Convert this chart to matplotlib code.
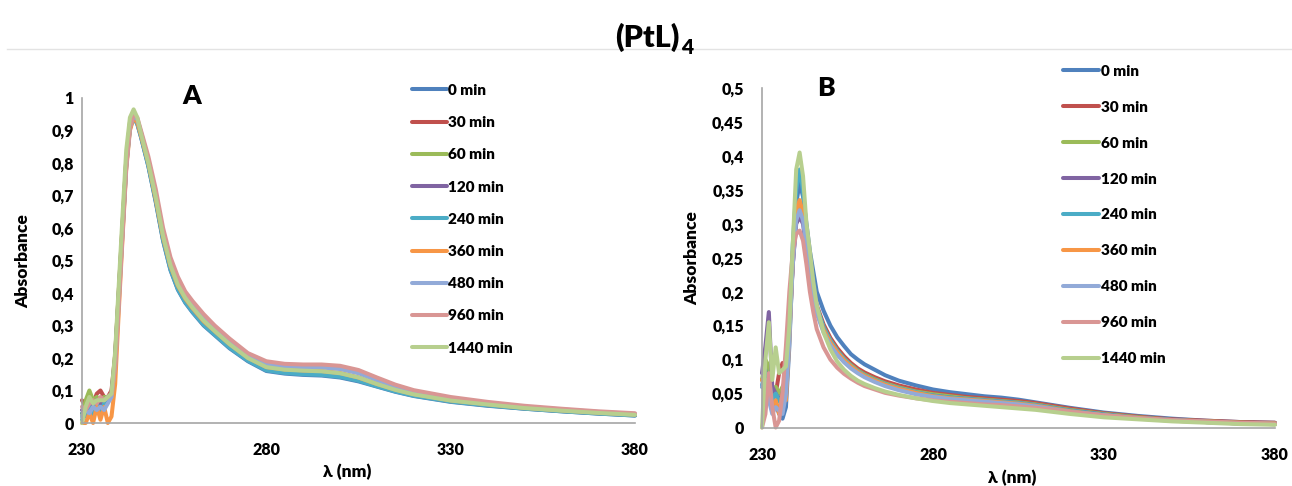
import matplotlib
matplotlib.use("Agg")
import matplotlib.pyplot as plt

plt.rcParams['font.family'] = ['Lato', 'DejaVu Sans']
BW = 'heavy'

WL = [230,231,232,233,234,235,236,237,238,239,240,241,242,243,244,245,246,
      248,250,252,254,256,258,260,263,266,270,275,280,285,290,295,300,305,310,
      315,320,330,340,350,360,370,380]

labels = ["0 min", "30 min", "60 min", "120 min", "240 min", "360 min",
          "480 min", "960 min", "1440 min"]
colors = ["#4F81BD", "#C0504D", "#9BBB59", "#8064A2", "#4BACC6", "#F79646",
          "#92AAD8", "#D99694", "#B7CF8E"]

# Panel A
A_0 = [0.03,0.02,0.05,0.03,0.06,0.04,0.06,0.07,0.08,0.20,0.40,0.60,0.80,0.91,0.94,0.92,0.88,
       0.79,0.68,0.56,0.47,0.41,0.37,0.34,0.30,0.27,0.23,0.19,0.16,0.152,0.148,0.146,0.14,0.128,0.112,
       0.096,0.083,0.065,0.053,0.044,0.036,0.029,0.023]
A_30 = [0.07,0.05,0.07,0.06,0.09,0.10,0.08,0.08,0.10,0.21,0.41,0.61,0.81,0.92,0.945,0.925,0.885,
        0.795,0.687,0.567,0.477,0.417,0.377,0.347,0.307,0.277,0.237,0.196,0.166,0.158,0.155,0.153,0.147,0.134,0.116,
        0.099,0.086,0.067,0.055,0.045,0.037,0.030,0.024]
A_60 = [0.02,0.07,0.10,0.07,0.08,0.07,0.08,0.08,0.09,0.21,0.41,0.61,0.81,0.925,0.95,0.93,0.89,
        0.80,0.69,0.57,0.48,0.42,0.38,0.35,0.31,0.28,0.24,0.198,0.168,0.16,0.157,0.155,0.149,0.136,0.117,
        0.1,0.087,0.068,0.056,0.046,0.038,0.031,0.025]
A_120 = [0.04,0.03,0.06,0.05,0.07,0.06,0.07,0.08,0.09,0.20,0.40,0.60,0.80,0.915,0.945,0.93,0.89,
         0.80,0.69,0.572,0.482,0.422,0.382,0.352,0.312,0.282,0.242,0.2,0.17,0.163,0.16,0.158,0.152,0.139,0.119,
         0.102,0.088,0.069,0.057,0.046,0.038,0.031,0.025]
A_240 = [0.01,0.03,0.05,0.02,0.06,0.03,0.06,0.07,0.08,0.19,0.39,0.59,0.79,0.905,0.94,0.92,0.88,
         0.79,0.682,0.562,0.472,0.412,0.372,0.342,0.302,0.272,0.232,0.192,0.162,0.154,0.15,0.148,0.142,0.13,0.113,
         0.097,0.084,0.066,0.054,0.044,0.036,0.029,0.023]
A_360 = [0.0,0.0,0.03,0.0,0.05,0.01,0.05,0.0,0.02,0.12,0.35,0.57,0.78,0.90,0.94,0.925,0.885,
         0.80,0.69,0.572,0.483,0.423,0.383,0.353,0.313,0.283,0.243,0.201,0.172,0.165,0.162,0.16,0.154,0.14,0.12,
         0.103,0.089,0.07,0.058,0.047,0.039,0.032,0.026]
A_480 = [0.02,0.04,0.03,0.05,0.04,0.05,0.04,0.06,0.08,0.18,0.38,0.59,0.79,0.91,0.945,0.935,0.895,
         0.81,0.705,0.585,0.495,0.435,0.395,0.365,0.325,0.292,0.252,0.208,0.182,0.174,0.172,0.171,0.166,0.153,0.132,
         0.111,0.096,0.075,0.062,0.05,0.042,0.034,0.028]
A_960 = [0.05,0.04,0.06,0.07,0.06,0.08,0.07,0.08,0.09,0.17,0.37,0.58,0.79,0.91,0.95,0.94,0.90,
         0.82,0.72,0.60,0.51,0.45,0.405,0.375,0.335,0.30,0.26,0.215,0.19,0.182,0.18,0.18,0.176,0.163,0.14,
         0.118,0.101,0.08,0.065,0.053,0.044,0.036,0.030]
A_1440 = [0.0,0.05,0.08,0.06,0.07,0.07,0.07,0.08,0.09,0.22,0.43,0.64,0.84,0.94,0.965,0.94,0.89,
          0.80,0.695,0.575,0.485,0.425,0.385,0.355,0.315,0.283,0.243,0.2,0.172,0.164,0.161,0.159,0.153,0.14,0.12,
          0.102,0.088,0.069,0.057,0.046,0.038,0.031,0.025]

# Panel B
B_0 = [0.06,0.09,0.06,0.03,0.035,0.02,0.013,0.03,0.12,0.25,0.33,0.36,0.34,0.30,0.26,0.23,0.20,
       0.172,0.15,0.133,0.12,0.108,0.10,0.093,0.085,0.077,0.069,0.062,0.056,0.052,0.049,0.046,0.044,0.041,0.037,
       0.033,0.029,0.022,0.017,0.013,0.010,0.008,0.007]
B_30 = [0.07,0.08,0.06,0.04,0.05,0.08,0.095,0.07,0.14,0.24,0.31,0.325,0.31,0.27,0.235,0.205,0.18,
        0.152,0.132,0.117,0.105,0.095,0.087,0.081,0.074,0.068,0.062,0.056,0.051,0.048,0.045,0.043,0.041,0.039,0.036,
        0.032,0.028,0.021,0.016,0.012,0.010,0.008,0.007]
B_60 = [0.07,0.10,0.09,0.05,0.06,0.05,0.06,0.07,0.15,0.25,0.32,0.33,0.315,0.27,0.23,0.2,0.175,
        0.147,0.128,0.113,0.101,0.092,0.084,0.078,0.071,0.065,0.059,0.053,0.049,0.046,0.043,0.041,0.039,0.037,0.034,
        0.03,0.026,0.02,0.015,0.011,0.009,0.007,0.006]
B_120 = [0.08,0.12,0.17,0.06,0.05,0.04,0.05,0.08,0.15,0.24,0.30,0.31,0.30,0.26,0.225,0.195,0.17,
         0.143,0.124,0.11,0.098,0.089,0.082,0.076,0.069,0.063,0.057,0.051,0.047,0.044,0.042,0.04,0.038,0.036,0.033,
         0.029,0.025,0.019,0.014,0.011,0.008,0.006,0.005]
B_240 = [0.06,0.08,0.07,0.04,0.05,0.04,0.03,0.06,0.15,0.27,0.35,0.38,0.35,0.29,0.24,0.205,0.178,
         0.148,0.128,0.113,0.101,0.091,0.083,0.077,0.07,0.064,0.058,0.052,0.047,0.044,0.042,0.04,0.038,0.036,0.033,
         0.029,0.025,0.019,0.014,0.011,0.008,0.006,0.005]
B_360 = [0.07,0.07,0.05,0.03,0.04,0.02,0.05,0.04,0.13,0.25,0.32,0.335,0.315,0.27,0.23,0.198,0.172,
         0.144,0.125,0.111,0.099,0.09,0.082,0.076,0.069,0.063,0.057,0.051,0.046,0.043,0.041,0.039,0.037,0.035,0.032,
         0.028,0.024,0.018,0.014,0.01,0.008,0.006,0.005]
B_480 = [0.06,0.07,0.04,0.02,0.03,0.025,0.02,0.05,0.13,0.24,0.305,0.32,0.305,0.265,0.225,0.193,0.168,
         0.14,0.121,0.107,0.096,0.087,0.08,0.074,0.067,0.061,0.055,0.049,0.045,0.042,0.04,0.038,0.036,0.034,0.031,
         0.027,0.023,0.018,0.013,0.01,0.008,0.006,0.005]
B_960 = [0.0,0.02,0.08,0.03,0.0,0.01,0.05,0.12,0.20,0.26,0.285,0.29,0.275,0.24,0.20,0.17,0.145,
         0.118,0.10,0.088,0.079,0.072,0.066,0.061,0.056,0.051,0.047,0.043,0.04,0.038,0.036,0.034,0.033,0.031,0.029,
         0.026,0.023,0.018,0.014,0.011,0.009,0.007,0.006]
B_1440 = [0.0,0.10,0.155,0.07,0.118,0.08,0.085,0.09,0.15,0.27,0.38,0.405,0.37,0.30,0.26,0.215,0.18,
          0.14,0.115,0.097,0.085,0.076,0.069,0.064,0.058,0.053,0.048,0.043,0.039,0.036,0.034,0.032,0.030,0.028,0.026,
          0.023,0.020,0.015,0.012,0.009,0.007,0.005,0.004]

A_series = [A_0, A_30, A_60, A_120, A_240, A_360, A_480, A_960, A_1440]
B_series = [B_0, B_30, B_60, B_120, B_240, B_360, B_480, B_960, B_1440]

A_yticks = [0, 0.1, 0.2, 0.3, 0.4, 0.5, 0.6, 0.7, 0.8, 0.9, 1]
A_ytl = ["0", "0,1", "0,2", "0,3", "0,4", "0,5", "0,6", "0,7", "0,8", "0,9", "1"]
B_yticks = [0, 0.05, 0.1, 0.15, 0.2, 0.25, 0.3, 0.35, 0.4, 0.45, 0.5]
B_ytl = ["0", "0,05", "0,1", "0,15", "0,2", "0,25", "0,3", "0,35", "0,4", "0,45", "0,5"]
xticks = [230, 280, 330, 380]

W, H = 1292, 486
fig = plt.figure(figsize=(W/100, H/100), dpi=100)

def px_rect(l, t, r, b):
    return [l/W, 1 - b/H, (r-l)/W, (b-t)/H]

axA = fig.add_axes(px_rect(82, 98, 635, 423))
axB = fig.add_axes(px_rect(762, 88, 1275, 427.5))

spine_c = "#A6A6A6"
for ax, series, yt, ytl, ymax, ypad in [(axA, A_series, A_yticks, A_ytl, 1.0, 6),
                                       (axB, B_series, B_yticks, B_ytl, 0.5, 13)]:
    for s, c, lab in zip(series, colors, labels):
        ax.plot(WL, s, color=c, lw=2.9, label=lab, solid_capstyle='round',
                solid_joinstyle='round', clip_on=False)
    ax.set_xlim(230, 380)
    ax.set_ylim(0, ymax)
    ax.set_xticks(xticks)
    ax.set_xticklabels([str(x) for x in xticks])
    ax.set_yticks(yt)
    ax.set_yticklabels(ytl)
    for sp in ['top', 'right']:
        ax.spines[sp].set_visible(False)
    for sp in ['left', 'bottom']:
        ax.spines[sp].set_color(spine_c)
        ax.spines[sp].set_linewidth(1.2)
    ax.tick_params(axis='both', length=0, labelsize=11.5)
    ax.tick_params(axis='y', pad=ypad)
    ax.tick_params(axis='x', pad=14)
    for t in ax.get_xticklabels() + ax.get_yticklabels():
        t.set_fontweight(BW)

# legends
legA = axA.legend(loc='upper left', bbox_to_anchor=((398)/W, 1 - 70/H), bbox_transform=fig.transFigure,
                  frameon=False, handlelength=2.3, handletextpad=0.1, labelspacing=1.26,
                  prop={'weight': BW, 'size': 11})
legB = axB.legend(loc='upper left', bbox_to_anchor=((1049)/W, 1 - 51/H), bbox_transform=fig.transFigure,
                  frameon=False, handlelength=2.4, handletextpad=0.1, labelspacing=1.5,
                  prop={'weight': BW, 'size': 11})

# panel letters
fig.text(192/W, 1 - 96/H, "A", ha='center', va='center', fontsize=19, fontweight=BW)
fig.text(826/W, 1 - 88/H, "B", ha='center', va='center', fontsize=19, fontweight=BW)

# axis labels
fig.text(23/W, 1 - 261/H, "Absorbance", rotation=90, ha='center', va='center', fontsize=12.5, fontweight=BW)
fig.text(692/W, 1 - 258/H, "Absorbance", rotation=90, ha='center', va='center', fontsize=12.5, fontweight=BW)
fig.text(347/W, 1 - 472/H, "λ (nm)", ha='center', va='center', fontsize=12.5, fontweight=BW)
fig.text(1012/W, 1 - 478/H, "λ (nm)", ha='center', va='center', fontsize=12.5, fontweight=BW)

# title
fig.text(680/W, 1 - 37/H, "(PtL)", ha='right', va='center', fontsize=22, fontweight=BW)
fig.text(681/W, 1 - 48/H, "4", ha='left', va='center', fontsize=15, fontweight=BW)

# thin separator line
fig.add_artist(plt.Line2D([7/W, 1.0], [1 - 49/H, 1 - 49/H], transform=fig.transFigure,
                          color="#E3E3E3", lw=1))

fig.savefig("out.png", dpi=100)
